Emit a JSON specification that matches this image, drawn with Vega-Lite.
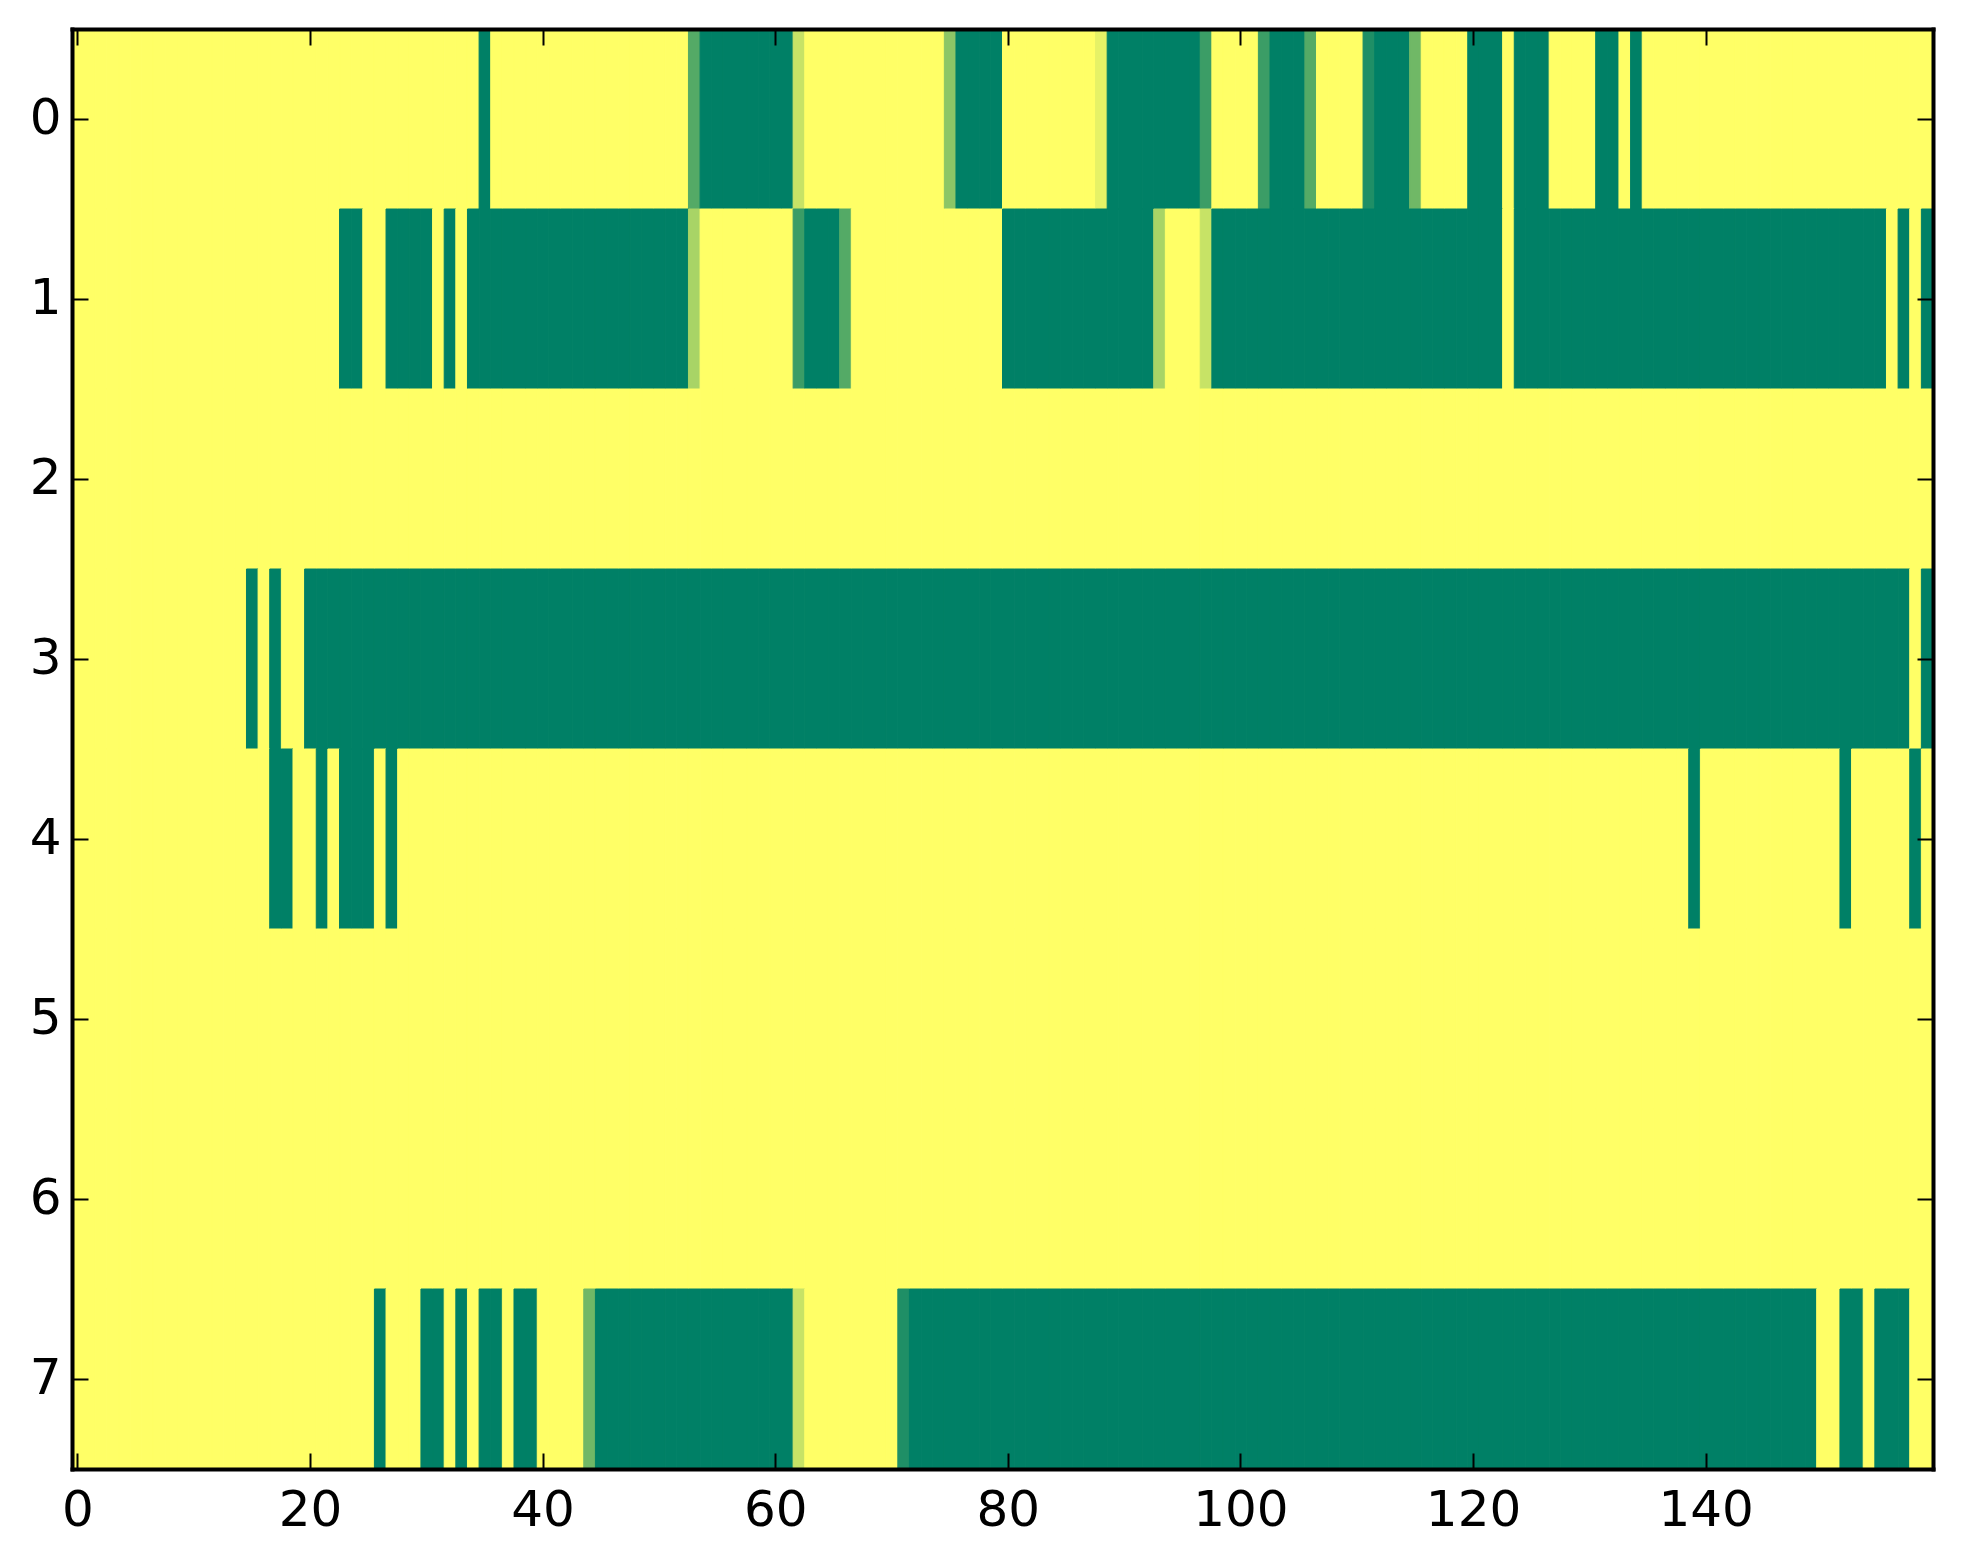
{
  "$schema": "https://vega.github.io/schema/vega-lite/v6.json",
  "width": 1861,
  "height": 1440,
  "autosize": {"type": "none"},
  "padding": {"left": 72, "top": 29, "right": 30, "bottom": 95},
  "background": "white",
  "config": {
    "view": {"stroke": null},
    "axis": {
      "labelFont": "DejaVu Sans",
      "labelFontSize": 50,
      "labelColor": "black",
      "ticks": true,
      "tickColor": "black",
      "tickWidth": 2,
      "tickSize": -16,
      "domain": true,
      "domainColor": "black",
      "domainWidth": 4,
      "domainCap": "square",
      "grid": false,
      "title": null
    }
  },
  "data": {
    "values": [
{"r":0,"c":0,"v":1},{"r":0,"c":1,"v":1},{"r":0,"c":2,"v":1},{"r":0,"c":3,"v":1},{"r":0,"c":4,"v":1},{"r":0,"c":5,"v":1},{"r":0,"c":6,"v":1},{"r":0,"c":7,"v":1},{"r":0,"c":8,"v":1},{"r":0,"c":9,"v":1},
{"r":0,"c":10,"v":1},{"r":0,"c":11,"v":1},{"r":0,"c":12,"v":1},{"r":0,"c":13,"v":1},{"r":0,"c":14,"v":1},{"r":0,"c":15,"v":1},{"r":0,"c":16,"v":1},{"r":0,"c":17,"v":1},{"r":0,"c":18,"v":1},{"r":0,"c":19,"v":1},
{"r":0,"c":20,"v":1},{"r":0,"c":21,"v":1},{"r":0,"c":22,"v":1},{"r":0,"c":23,"v":1},{"r":0,"c":24,"v":1},{"r":0,"c":25,"v":1},{"r":0,"c":26,"v":1},{"r":0,"c":27,"v":1},{"r":0,"c":28,"v":1},{"r":0,"c":29,"v":1},
{"r":0,"c":30,"v":1},{"r":0,"c":31,"v":1},{"r":0,"c":32,"v":1},{"r":0,"c":33,"v":1},{"r":0,"c":34,"v":1},{"r":0,"c":35,"v":0},{"r":0,"c":36,"v":1},{"r":0,"c":37,"v":1},{"r":0,"c":38,"v":1},{"r":0,"c":39,"v":1},
{"r":0,"c":40,"v":1},{"r":0,"c":41,"v":1},{"r":0,"c":42,"v":1},{"r":0,"c":43,"v":1},{"r":0,"c":44,"v":1},{"r":0,"c":45,"v":1},{"r":0,"c":46,"v":1},{"r":0,"c":47,"v":1},{"r":0,"c":48,"v":1},{"r":0,"c":49,"v":1},
{"r":0,"c":50,"v":1},{"r":0,"c":51,"v":1},{"r":0,"c":52,"v":1},{"r":0,"c":53,"v":0.33},{"r":0,"c":54,"v":0},{"r":0,"c":55,"v":0},{"r":0,"c":56,"v":0},{"r":0,"c":57,"v":0},{"r":0,"c":58,"v":0},{"r":0,"c":59,"v":0},
{"r":0,"c":60,"v":0},{"r":0,"c":61,"v":0},{"r":0,"c":62,"v":0.78},{"r":0,"c":63,"v":1},{"r":0,"c":64,"v":1},{"r":0,"c":65,"v":1},{"r":0,"c":66,"v":1},{"r":0,"c":67,"v":1},{"r":0,"c":68,"v":1},{"r":0,"c":69,"v":1},
{"r":0,"c":70,"v":1},{"r":0,"c":71,"v":1},{"r":0,"c":72,"v":1},{"r":0,"c":73,"v":1},{"r":0,"c":74,"v":1},{"r":0,"c":75,"v":0.55},{"r":0,"c":76,"v":0},{"r":0,"c":77,"v":0},{"r":0,"c":78,"v":0},{"r":0,"c":79,"v":0},
{"r":0,"c":80,"v":1},{"r":0,"c":81,"v":1},{"r":0,"c":82,"v":1},{"r":0,"c":83,"v":1},{"r":0,"c":84,"v":1},{"r":0,"c":85,"v":1},{"r":0,"c":86,"v":1},{"r":0,"c":87,"v":1},{"r":0,"c":88,"v":0.9},{"r":0,"c":89,"v":0},
{"r":0,"c":90,"v":0},{"r":0,"c":91,"v":0},{"r":0,"c":92,"v":0},{"r":0,"c":93,"v":0},{"r":0,"c":94,"v":0},{"r":0,"c":95,"v":0},{"r":0,"c":96,"v":0},{"r":0,"c":97,"v":0.23},{"r":0,"c":98,"v":1},{"r":0,"c":99,"v":1},
{"r":0,"c":100,"v":1},{"r":0,"c":101,"v":1},{"r":0,"c":102,"v":0.23},{"r":0,"c":103,"v":0},{"r":0,"c":104,"v":0},{"r":0,"c":105,"v":0},{"r":0,"c":106,"v":0.33},{"r":0,"c":107,"v":1},{"r":0,"c":108,"v":1},{"r":0,"c":109,"v":1},
{"r":0,"c":110,"v":1},{"r":0,"c":111,"v":0.12},{"r":0,"c":112,"v":0},{"r":0,"c":113,"v":0},{"r":0,"c":114,"v":0},{"r":0,"c":115,"v":0.44},{"r":0,"c":116,"v":1},{"r":0,"c":117,"v":1},{"r":0,"c":118,"v":1},{"r":0,"c":119,"v":1},
{"r":0,"c":120,"v":0},{"r":0,"c":121,"v":0},{"r":0,"c":122,"v":0},{"r":0,"c":123,"v":1},{"r":0,"c":124,"v":0},{"r":0,"c":125,"v":0},{"r":0,"c":126,"v":0},{"r":0,"c":127,"v":1},{"r":0,"c":128,"v":1},{"r":0,"c":129,"v":1},
{"r":0,"c":130,"v":1},{"r":0,"c":131,"v":0},{"r":0,"c":132,"v":0},{"r":0,"c":133,"v":1},{"r":0,"c":134,"v":0},{"r":0,"c":135,"v":1},{"r":0,"c":136,"v":1},{"r":0,"c":137,"v":1},{"r":0,"c":138,"v":1},{"r":0,"c":139,"v":1},
{"r":0,"c":140,"v":1},{"r":0,"c":141,"v":1},{"r":0,"c":142,"v":1},{"r":0,"c":143,"v":1},{"r":0,"c":144,"v":1},{"r":0,"c":145,"v":1},{"r":0,"c":146,"v":1},{"r":0,"c":147,"v":1},{"r":0,"c":148,"v":1},{"r":0,"c":149,"v":1},
{"r":0,"c":150,"v":1},{"r":0,"c":151,"v":1},{"r":0,"c":152,"v":1},{"r":0,"c":153,"v":1},{"r":0,"c":154,"v":1},{"r":0,"c":155,"v":1},{"r":0,"c":156,"v":1},{"r":0,"c":157,"v":1},{"r":0,"c":158,"v":1},{"r":0,"c":159,"v":1},
{"r":1,"c":0,"v":1},{"r":1,"c":1,"v":1},{"r":1,"c":2,"v":1},{"r":1,"c":3,"v":1},{"r":1,"c":4,"v":1},{"r":1,"c":5,"v":1},{"r":1,"c":6,"v":1},{"r":1,"c":7,"v":1},{"r":1,"c":8,"v":1},{"r":1,"c":9,"v":1},
{"r":1,"c":10,"v":1},{"r":1,"c":11,"v":1},{"r":1,"c":12,"v":1},{"r":1,"c":13,"v":1},{"r":1,"c":14,"v":1},{"r":1,"c":15,"v":1},{"r":1,"c":16,"v":1},{"r":1,"c":17,"v":1},{"r":1,"c":18,"v":1},{"r":1,"c":19,"v":1},
{"r":1,"c":20,"v":1},{"r":1,"c":21,"v":1},{"r":1,"c":22,"v":1},{"r":1,"c":23,"v":0},{"r":1,"c":24,"v":0},{"r":1,"c":25,"v":1},{"r":1,"c":26,"v":1},{"r":1,"c":27,"v":0},{"r":1,"c":28,"v":0},{"r":1,"c":29,"v":0},
{"r":1,"c":30,"v":0},{"r":1,"c":31,"v":1},{"r":1,"c":32,"v":0},{"r":1,"c":33,"v":1},{"r":1,"c":34,"v":0},{"r":1,"c":35,"v":0},{"r":1,"c":36,"v":0},{"r":1,"c":37,"v":0},{"r":1,"c":38,"v":0},{"r":1,"c":39,"v":0},
{"r":1,"c":40,"v":0},{"r":1,"c":41,"v":0},{"r":1,"c":42,"v":0},{"r":1,"c":43,"v":0},{"r":1,"c":44,"v":0},{"r":1,"c":45,"v":0},{"r":1,"c":46,"v":0},{"r":1,"c":47,"v":0},{"r":1,"c":48,"v":0},{"r":1,"c":49,"v":0},
{"r":1,"c":50,"v":0},{"r":1,"c":51,"v":0},{"r":1,"c":52,"v":0},{"r":1,"c":53,"v":0.66},{"r":1,"c":54,"v":1},{"r":1,"c":55,"v":1},{"r":1,"c":56,"v":1},{"r":1,"c":57,"v":1},{"r":1,"c":58,"v":1},{"r":1,"c":59,"v":1},
{"r":1,"c":60,"v":1},{"r":1,"c":61,"v":1},{"r":1,"c":62,"v":0.23},{"r":1,"c":63,"v":0},{"r":1,"c":64,"v":0},{"r":1,"c":65,"v":0},{"r":1,"c":66,"v":0.33},{"r":1,"c":67,"v":1},{"r":1,"c":68,"v":1},{"r":1,"c":69,"v":1},
{"r":1,"c":70,"v":1},{"r":1,"c":71,"v":1},{"r":1,"c":72,"v":1},{"r":1,"c":73,"v":1},{"r":1,"c":74,"v":1},{"r":1,"c":75,"v":1},{"r":1,"c":76,"v":1},{"r":1,"c":77,"v":1},{"r":1,"c":78,"v":1},{"r":1,"c":79,"v":1},
{"r":1,"c":80,"v":0},{"r":1,"c":81,"v":0},{"r":1,"c":82,"v":0},{"r":1,"c":83,"v":0},{"r":1,"c":84,"v":0},{"r":1,"c":85,"v":0},{"r":1,"c":86,"v":0},{"r":1,"c":87,"v":0},{"r":1,"c":88,"v":0},{"r":1,"c":89,"v":0},
{"r":1,"c":90,"v":0},{"r":1,"c":91,"v":0},{"r":1,"c":92,"v":0},{"r":1,"c":93,"v":0.66},{"r":1,"c":94,"v":1},{"r":1,"c":95,"v":1},{"r":1,"c":96,"v":1},{"r":1,"c":97,"v":0.78},{"r":1,"c":98,"v":0},{"r":1,"c":99,"v":0},
{"r":1,"c":100,"v":0},{"r":1,"c":101,"v":0},{"r":1,"c":102,"v":0},{"r":1,"c":103,"v":0},{"r":1,"c":104,"v":0},{"r":1,"c":105,"v":0},{"r":1,"c":106,"v":0},{"r":1,"c":107,"v":0},{"r":1,"c":108,"v":0},{"r":1,"c":109,"v":0},
{"r":1,"c":110,"v":0},{"r":1,"c":111,"v":0},{"r":1,"c":112,"v":0},{"r":1,"c":113,"v":0},{"r":1,"c":114,"v":0},{"r":1,"c":115,"v":0},{"r":1,"c":116,"v":0},{"r":1,"c":117,"v":0},{"r":1,"c":118,"v":0},{"r":1,"c":119,"v":0},
{"r":1,"c":120,"v":0},{"r":1,"c":121,"v":0},{"r":1,"c":122,"v":0},{"r":1,"c":123,"v":1},{"r":1,"c":124,"v":0},{"r":1,"c":125,"v":0},{"r":1,"c":126,"v":0},{"r":1,"c":127,"v":0},{"r":1,"c":128,"v":0},{"r":1,"c":129,"v":0},
{"r":1,"c":130,"v":0},{"r":1,"c":131,"v":0},{"r":1,"c":132,"v":0},{"r":1,"c":133,"v":0},{"r":1,"c":134,"v":0},{"r":1,"c":135,"v":0},{"r":1,"c":136,"v":0},{"r":1,"c":137,"v":0},{"r":1,"c":138,"v":0},{"r":1,"c":139,"v":0},
{"r":1,"c":140,"v":0},{"r":1,"c":141,"v":0},{"r":1,"c":142,"v":0},{"r":1,"c":143,"v":0},{"r":1,"c":144,"v":0},{"r":1,"c":145,"v":0},{"r":1,"c":146,"v":0},{"r":1,"c":147,"v":0},{"r":1,"c":148,"v":0},{"r":1,"c":149,"v":0},
{"r":1,"c":150,"v":0},{"r":1,"c":151,"v":0},{"r":1,"c":152,"v":0},{"r":1,"c":153,"v":0},{"r":1,"c":154,"v":0},{"r":1,"c":155,"v":0},{"r":1,"c":156,"v":1},{"r":1,"c":157,"v":0},{"r":1,"c":158,"v":1},{"r":1,"c":159,"v":0},
{"r":2,"c":0,"v":1},{"r":2,"c":1,"v":1},{"r":2,"c":2,"v":1},{"r":2,"c":3,"v":1},{"r":2,"c":4,"v":1},{"r":2,"c":5,"v":1},{"r":2,"c":6,"v":1},{"r":2,"c":7,"v":1},{"r":2,"c":8,"v":1},{"r":2,"c":9,"v":1},
{"r":2,"c":10,"v":1},{"r":2,"c":11,"v":1},{"r":2,"c":12,"v":1},{"r":2,"c":13,"v":1},{"r":2,"c":14,"v":1},{"r":2,"c":15,"v":1},{"r":2,"c":16,"v":1},{"r":2,"c":17,"v":1},{"r":2,"c":18,"v":1},{"r":2,"c":19,"v":1},
{"r":2,"c":20,"v":1},{"r":2,"c":21,"v":1},{"r":2,"c":22,"v":1},{"r":2,"c":23,"v":1},{"r":2,"c":24,"v":1},{"r":2,"c":25,"v":1},{"r":2,"c":26,"v":1},{"r":2,"c":27,"v":1},{"r":2,"c":28,"v":1},{"r":2,"c":29,"v":1},
{"r":2,"c":30,"v":1},{"r":2,"c":31,"v":1},{"r":2,"c":32,"v":1},{"r":2,"c":33,"v":1},{"r":2,"c":34,"v":1},{"r":2,"c":35,"v":1},{"r":2,"c":36,"v":1},{"r":2,"c":37,"v":1},{"r":2,"c":38,"v":1},{"r":2,"c":39,"v":1},
{"r":2,"c":40,"v":1},{"r":2,"c":41,"v":1},{"r":2,"c":42,"v":1},{"r":2,"c":43,"v":1},{"r":2,"c":44,"v":1},{"r":2,"c":45,"v":1},{"r":2,"c":46,"v":1},{"r":2,"c":47,"v":1},{"r":2,"c":48,"v":1},{"r":2,"c":49,"v":1},
{"r":2,"c":50,"v":1},{"r":2,"c":51,"v":1},{"r":2,"c":52,"v":1},{"r":2,"c":53,"v":1},{"r":2,"c":54,"v":1},{"r":2,"c":55,"v":1},{"r":2,"c":56,"v":1},{"r":2,"c":57,"v":1},{"r":2,"c":58,"v":1},{"r":2,"c":59,"v":1},
{"r":2,"c":60,"v":1},{"r":2,"c":61,"v":1},{"r":2,"c":62,"v":1},{"r":2,"c":63,"v":1},{"r":2,"c":64,"v":1},{"r":2,"c":65,"v":1},{"r":2,"c":66,"v":1},{"r":2,"c":67,"v":1},{"r":2,"c":68,"v":1},{"r":2,"c":69,"v":1},
{"r":2,"c":70,"v":1},{"r":2,"c":71,"v":1},{"r":2,"c":72,"v":1},{"r":2,"c":73,"v":1},{"r":2,"c":74,"v":1},{"r":2,"c":75,"v":1},{"r":2,"c":76,"v":1},{"r":2,"c":77,"v":1},{"r":2,"c":78,"v":1},{"r":2,"c":79,"v":1},
{"r":2,"c":80,"v":1},{"r":2,"c":81,"v":1},{"r":2,"c":82,"v":1},{"r":2,"c":83,"v":1},{"r":2,"c":84,"v":1},{"r":2,"c":85,"v":1},{"r":2,"c":86,"v":1},{"r":2,"c":87,"v":1},{"r":2,"c":88,"v":1},{"r":2,"c":89,"v":1},
{"r":2,"c":90,"v":1},{"r":2,"c":91,"v":1},{"r":2,"c":92,"v":1},{"r":2,"c":93,"v":1},{"r":2,"c":94,"v":1},{"r":2,"c":95,"v":1},{"r":2,"c":96,"v":1},{"r":2,"c":97,"v":1},{"r":2,"c":98,"v":1},{"r":2,"c":99,"v":1},
{"r":2,"c":100,"v":1},{"r":2,"c":101,"v":1},{"r":2,"c":102,"v":1},{"r":2,"c":103,"v":1},{"r":2,"c":104,"v":1},{"r":2,"c":105,"v":1},{"r":2,"c":106,"v":1},{"r":2,"c":107,"v":1},{"r":2,"c":108,"v":1},{"r":2,"c":109,"v":1},
{"r":2,"c":110,"v":1},{"r":2,"c":111,"v":1},{"r":2,"c":112,"v":1},{"r":2,"c":113,"v":1},{"r":2,"c":114,"v":1},{"r":2,"c":115,"v":1},{"r":2,"c":116,"v":1},{"r":2,"c":117,"v":1},{"r":2,"c":118,"v":1},{"r":2,"c":119,"v":1},
{"r":2,"c":120,"v":1},{"r":2,"c":121,"v":1},{"r":2,"c":122,"v":1},{"r":2,"c":123,"v":1},{"r":2,"c":124,"v":1},{"r":2,"c":125,"v":1},{"r":2,"c":126,"v":1},{"r":2,"c":127,"v":1},{"r":2,"c":128,"v":1},{"r":2,"c":129,"v":1},
{"r":2,"c":130,"v":1},{"r":2,"c":131,"v":1},{"r":2,"c":132,"v":1},{"r":2,"c":133,"v":1},{"r":2,"c":134,"v":1},{"r":2,"c":135,"v":1},{"r":2,"c":136,"v":1},{"r":2,"c":137,"v":1},{"r":2,"c":138,"v":1},{"r":2,"c":139,"v":1},
{"r":2,"c":140,"v":1},{"r":2,"c":141,"v":1},{"r":2,"c":142,"v":1},{"r":2,"c":143,"v":1},{"r":2,"c":144,"v":1},{"r":2,"c":145,"v":1},{"r":2,"c":146,"v":1},{"r":2,"c":147,"v":1},{"r":2,"c":148,"v":1},{"r":2,"c":149,"v":1},
{"r":2,"c":150,"v":1},{"r":2,"c":151,"v":1},{"r":2,"c":152,"v":1},{"r":2,"c":153,"v":1},{"r":2,"c":154,"v":1},{"r":2,"c":155,"v":1},{"r":2,"c":156,"v":1},{"r":2,"c":157,"v":1},{"r":2,"c":158,"v":1},{"r":2,"c":159,"v":1},
{"r":3,"c":0,"v":1},{"r":3,"c":1,"v":1},{"r":3,"c":2,"v":1},{"r":3,"c":3,"v":1},{"r":3,"c":4,"v":1},{"r":3,"c":5,"v":1},{"r":3,"c":6,"v":1},{"r":3,"c":7,"v":1},{"r":3,"c":8,"v":1},{"r":3,"c":9,"v":1},
{"r":3,"c":10,"v":1},{"r":3,"c":11,"v":1},{"r":3,"c":12,"v":1},{"r":3,"c":13,"v":1},{"r":3,"c":14,"v":1},{"r":3,"c":15,"v":0},{"r":3,"c":16,"v":1},{"r":3,"c":17,"v":0},{"r":3,"c":18,"v":1},{"r":3,"c":19,"v":1},
{"r":3,"c":20,"v":0},{"r":3,"c":21,"v":0},{"r":3,"c":22,"v":0},{"r":3,"c":23,"v":0},{"r":3,"c":24,"v":0},{"r":3,"c":25,"v":0},{"r":3,"c":26,"v":0},{"r":3,"c":27,"v":0},{"r":3,"c":28,"v":0},{"r":3,"c":29,"v":0},
{"r":3,"c":30,"v":0},{"r":3,"c":31,"v":0},{"r":3,"c":32,"v":0},{"r":3,"c":33,"v":0},{"r":3,"c":34,"v":0},{"r":3,"c":35,"v":0},{"r":3,"c":36,"v":0},{"r":3,"c":37,"v":0},{"r":3,"c":38,"v":0},{"r":3,"c":39,"v":0},
{"r":3,"c":40,"v":0},{"r":3,"c":41,"v":0},{"r":3,"c":42,"v":0},{"r":3,"c":43,"v":0},{"r":3,"c":44,"v":0},{"r":3,"c":45,"v":0},{"r":3,"c":46,"v":0},{"r":3,"c":47,"v":0},{"r":3,"c":48,"v":0},{"r":3,"c":49,"v":0},
{"r":3,"c":50,"v":0},{"r":3,"c":51,"v":0},{"r":3,"c":52,"v":0},{"r":3,"c":53,"v":0},{"r":3,"c":54,"v":0},{"r":3,"c":55,"v":0},{"r":3,"c":56,"v":0},{"r":3,"c":57,"v":0},{"r":3,"c":58,"v":0},{"r":3,"c":59,"v":0},
{"r":3,"c":60,"v":0},{"r":3,"c":61,"v":0},{"r":3,"c":62,"v":0},{"r":3,"c":63,"v":0},{"r":3,"c":64,"v":0},{"r":3,"c":65,"v":0},{"r":3,"c":66,"v":0},{"r":3,"c":67,"v":0},{"r":3,"c":68,"v":0},{"r":3,"c":69,"v":0},
{"r":3,"c":70,"v":0},{"r":3,"c":71,"v":0},{"r":3,"c":72,"v":0},{"r":3,"c":73,"v":0},{"r":3,"c":74,"v":0},{"r":3,"c":75,"v":0},{"r":3,"c":76,"v":0},{"r":3,"c":77,"v":0},{"r":3,"c":78,"v":0},{"r":3,"c":79,"v":0},
{"r":3,"c":80,"v":0},{"r":3,"c":81,"v":0},{"r":3,"c":82,"v":0},{"r":3,"c":83,"v":0},{"r":3,"c":84,"v":0},{"r":3,"c":85,"v":0},{"r":3,"c":86,"v":0},{"r":3,"c":87,"v":0},{"r":3,"c":88,"v":0},{"r":3,"c":89,"v":0},
{"r":3,"c":90,"v":0},{"r":3,"c":91,"v":0},{"r":3,"c":92,"v":0},{"r":3,"c":93,"v":0},{"r":3,"c":94,"v":0},{"r":3,"c":95,"v":0},{"r":3,"c":96,"v":0},{"r":3,"c":97,"v":0},{"r":3,"c":98,"v":0},{"r":3,"c":99,"v":0},
{"r":3,"c":100,"v":0},{"r":3,"c":101,"v":0},{"r":3,"c":102,"v":0},{"r":3,"c":103,"v":0},{"r":3,"c":104,"v":0},{"r":3,"c":105,"v":0},{"r":3,"c":106,"v":0},{"r":3,"c":107,"v":0},{"r":3,"c":108,"v":0},{"r":3,"c":109,"v":0},
{"r":3,"c":110,"v":0},{"r":3,"c":111,"v":0},{"r":3,"c":112,"v":0},{"r":3,"c":113,"v":0},{"r":3,"c":114,"v":0},{"r":3,"c":115,"v":0},{"r":3,"c":116,"v":0},{"r":3,"c":117,"v":0},{"r":3,"c":118,"v":0},{"r":3,"c":119,"v":0},
{"r":3,"c":120,"v":0},{"r":3,"c":121,"v":0},{"r":3,"c":122,"v":0},{"r":3,"c":123,"v":0},{"r":3,"c":124,"v":0},{"r":3,"c":125,"v":0},{"r":3,"c":126,"v":0},{"r":3,"c":127,"v":0},{"r":3,"c":128,"v":0},{"r":3,"c":129,"v":0},
{"r":3,"c":130,"v":0},{"r":3,"c":131,"v":0},{"r":3,"c":132,"v":0},{"r":3,"c":133,"v":0},{"r":3,"c":134,"v":0},{"r":3,"c":135,"v":0},{"r":3,"c":136,"v":0},{"r":3,"c":137,"v":0},{"r":3,"c":138,"v":0},{"r":3,"c":139,"v":0},
{"r":3,"c":140,"v":0},{"r":3,"c":141,"v":0},{"r":3,"c":142,"v":0},{"r":3,"c":143,"v":0},{"r":3,"c":144,"v":0},{"r":3,"c":145,"v":0},{"r":3,"c":146,"v":0},{"r":3,"c":147,"v":0},{"r":3,"c":148,"v":0},{"r":3,"c":149,"v":0},
{"r":3,"c":150,"v":0},{"r":3,"c":151,"v":0},{"r":3,"c":152,"v":0},{"r":3,"c":153,"v":0},{"r":3,"c":154,"v":0},{"r":3,"c":155,"v":0},{"r":3,"c":156,"v":0},{"r":3,"c":157,"v":0},{"r":3,"c":158,"v":1},{"r":3,"c":159,"v":0},
{"r":4,"c":0,"v":1},{"r":4,"c":1,"v":1},{"r":4,"c":2,"v":1},{"r":4,"c":3,"v":1},{"r":4,"c":4,"v":1},{"r":4,"c":5,"v":1},{"r":4,"c":6,"v":1},{"r":4,"c":7,"v":1},{"r":4,"c":8,"v":1},{"r":4,"c":9,"v":1},
{"r":4,"c":10,"v":1},{"r":4,"c":11,"v":1},{"r":4,"c":12,"v":1},{"r":4,"c":13,"v":1},{"r":4,"c":14,"v":1},{"r":4,"c":15,"v":1},{"r":4,"c":16,"v":1},{"r":4,"c":17,"v":0},{"r":4,"c":18,"v":0},{"r":4,"c":19,"v":1},
{"r":4,"c":20,"v":1},{"r":4,"c":21,"v":0},{"r":4,"c":22,"v":1},{"r":4,"c":23,"v":0},{"r":4,"c":24,"v":0},{"r":4,"c":25,"v":0},{"r":4,"c":26,"v":1},{"r":4,"c":27,"v":0},{"r":4,"c":28,"v":1},{"r":4,"c":29,"v":1},
{"r":4,"c":30,"v":1},{"r":4,"c":31,"v":1},{"r":4,"c":32,"v":1},{"r":4,"c":33,"v":1},{"r":4,"c":34,"v":1},{"r":4,"c":35,"v":1},{"r":4,"c":36,"v":1},{"r":4,"c":37,"v":1},{"r":4,"c":38,"v":1},{"r":4,"c":39,"v":1},
{"r":4,"c":40,"v":1},{"r":4,"c":41,"v":1},{"r":4,"c":42,"v":1},{"r":4,"c":43,"v":1},{"r":4,"c":44,"v":1},{"r":4,"c":45,"v":1},{"r":4,"c":46,"v":1},{"r":4,"c":47,"v":1},{"r":4,"c":48,"v":1},{"r":4,"c":49,"v":1},
{"r":4,"c":50,"v":1},{"r":4,"c":51,"v":1},{"r":4,"c":52,"v":1},{"r":4,"c":53,"v":1},{"r":4,"c":54,"v":1},{"r":4,"c":55,"v":1},{"r":4,"c":56,"v":1},{"r":4,"c":57,"v":1},{"r":4,"c":58,"v":1},{"r":4,"c":59,"v":1},
{"r":4,"c":60,"v":1},{"r":4,"c":61,"v":1},{"r":4,"c":62,"v":1},{"r":4,"c":63,"v":1},{"r":4,"c":64,"v":1},{"r":4,"c":65,"v":1},{"r":4,"c":66,"v":1},{"r":4,"c":67,"v":1},{"r":4,"c":68,"v":1},{"r":4,"c":69,"v":1},
{"r":4,"c":70,"v":1},{"r":4,"c":71,"v":1},{"r":4,"c":72,"v":1},{"r":4,"c":73,"v":1},{"r":4,"c":74,"v":1},{"r":4,"c":75,"v":1},{"r":4,"c":76,"v":1},{"r":4,"c":77,"v":1},{"r":4,"c":78,"v":1},{"r":4,"c":79,"v":1},
{"r":4,"c":80,"v":1},{"r":4,"c":81,"v":1},{"r":4,"c":82,"v":1},{"r":4,"c":83,"v":1},{"r":4,"c":84,"v":1},{"r":4,"c":85,"v":1},{"r":4,"c":86,"v":1},{"r":4,"c":87,"v":1},{"r":4,"c":88,"v":1},{"r":4,"c":89,"v":1},
{"r":4,"c":90,"v":1},{"r":4,"c":91,"v":1},{"r":4,"c":92,"v":1},{"r":4,"c":93,"v":1},{"r":4,"c":94,"v":1},{"r":4,"c":95,"v":1},{"r":4,"c":96,"v":1},{"r":4,"c":97,"v":1},{"r":4,"c":98,"v":1},{"r":4,"c":99,"v":1},
{"r":4,"c":100,"v":1},{"r":4,"c":101,"v":1},{"r":4,"c":102,"v":1},{"r":4,"c":103,"v":1},{"r":4,"c":104,"v":1},{"r":4,"c":105,"v":1},{"r":4,"c":106,"v":1},{"r":4,"c":107,"v":1},{"r":4,"c":108,"v":1},{"r":4,"c":109,"v":1},
{"r":4,"c":110,"v":1},{"r":4,"c":111,"v":1},{"r":4,"c":112,"v":1},{"r":4,"c":113,"v":1},{"r":4,"c":114,"v":1},{"r":4,"c":115,"v":1},{"r":4,"c":116,"v":1},{"r":4,"c":117,"v":1},{"r":4,"c":118,"v":1},{"r":4,"c":119,"v":1},
{"r":4,"c":120,"v":1},{"r":4,"c":121,"v":1},{"r":4,"c":122,"v":1},{"r":4,"c":123,"v":1},{"r":4,"c":124,"v":1},{"r":4,"c":125,"v":1},{"r":4,"c":126,"v":1},{"r":4,"c":127,"v":1},{"r":4,"c":128,"v":1},{"r":4,"c":129,"v":1},
{"r":4,"c":130,"v":1},{"r":4,"c":131,"v":1},{"r":4,"c":132,"v":1},{"r":4,"c":133,"v":1},{"r":4,"c":134,"v":1},{"r":4,"c":135,"v":1},{"r":4,"c":136,"v":1},{"r":4,"c":137,"v":1},{"r":4,"c":138,"v":1},{"r":4,"c":139,"v":0},
{"r":4,"c":140,"v":1},{"r":4,"c":141,"v":1},{"r":4,"c":142,"v":1},{"r":4,"c":143,"v":1},{"r":4,"c":144,"v":1},{"r":4,"c":145,"v":1},{"r":4,"c":146,"v":1},{"r":4,"c":147,"v":1},{"r":4,"c":148,"v":1},{"r":4,"c":149,"v":1},
{"r":4,"c":150,"v":1},{"r":4,"c":151,"v":1},{"r":4,"c":152,"v":0},{"r":4,"c":153,"v":1},{"r":4,"c":154,"v":1},{"r":4,"c":155,"v":1},{"r":4,"c":156,"v":1},{"r":4,"c":157,"v":1},{"r":4,"c":158,"v":0},{"r":4,"c":159,"v":1},
{"r":5,"c":0,"v":1},{"r":5,"c":1,"v":1},{"r":5,"c":2,"v":1},{"r":5,"c":3,"v":1},{"r":5,"c":4,"v":1},{"r":5,"c":5,"v":1},{"r":5,"c":6,"v":1},{"r":5,"c":7,"v":1},{"r":5,"c":8,"v":1},{"r":5,"c":9,"v":1},
{"r":5,"c":10,"v":1},{"r":5,"c":11,"v":1},{"r":5,"c":12,"v":1},{"r":5,"c":13,"v":1},{"r":5,"c":14,"v":1},{"r":5,"c":15,"v":1},{"r":5,"c":16,"v":1},{"r":5,"c":17,"v":1},{"r":5,"c":18,"v":1},{"r":5,"c":19,"v":1},
{"r":5,"c":20,"v":1},{"r":5,"c":21,"v":1},{"r":5,"c":22,"v":1},{"r":5,"c":23,"v":1},{"r":5,"c":24,"v":1},{"r":5,"c":25,"v":1},{"r":5,"c":26,"v":1},{"r":5,"c":27,"v":1},{"r":5,"c":28,"v":1},{"r":5,"c":29,"v":1},
{"r":5,"c":30,"v":1},{"r":5,"c":31,"v":1},{"r":5,"c":32,"v":1},{"r":5,"c":33,"v":1},{"r":5,"c":34,"v":1},{"r":5,"c":35,"v":1},{"r":5,"c":36,"v":1},{"r":5,"c":37,"v":1},{"r":5,"c":38,"v":1},{"r":5,"c":39,"v":1},
{"r":5,"c":40,"v":1},{"r":5,"c":41,"v":1},{"r":5,"c":42,"v":1},{"r":5,"c":43,"v":1},{"r":5,"c":44,"v":1},{"r":5,"c":45,"v":1},{"r":5,"c":46,"v":1},{"r":5,"c":47,"v":1},{"r":5,"c":48,"v":1},{"r":5,"c":49,"v":1},
{"r":5,"c":50,"v":1},{"r":5,"c":51,"v":1},{"r":5,"c":52,"v":1},{"r":5,"c":53,"v":1},{"r":5,"c":54,"v":1},{"r":5,"c":55,"v":1},{"r":5,"c":56,"v":1},{"r":5,"c":57,"v":1},{"r":5,"c":58,"v":1},{"r":5,"c":59,"v":1},
{"r":5,"c":60,"v":1},{"r":5,"c":61,"v":1},{"r":5,"c":62,"v":1},{"r":5,"c":63,"v":1},{"r":5,"c":64,"v":1},{"r":5,"c":65,"v":1},{"r":5,"c":66,"v":1},{"r":5,"c":67,"v":1},{"r":5,"c":68,"v":1},{"r":5,"c":69,"v":1},
{"r":5,"c":70,"v":1},{"r":5,"c":71,"v":1},{"r":5,"c":72,"v":1},{"r":5,"c":73,"v":1},{"r":5,"c":74,"v":1},{"r":5,"c":75,"v":1},{"r":5,"c":76,"v":1},{"r":5,"c":77,"v":1},{"r":5,"c":78,"v":1},{"r":5,"c":79,"v":1},
{"r":5,"c":80,"v":1},{"r":5,"c":81,"v":1},{"r":5,"c":82,"v":1},{"r":5,"c":83,"v":1},{"r":5,"c":84,"v":1},{"r":5,"c":85,"v":1},{"r":5,"c":86,"v":1},{"r":5,"c":87,"v":1},{"r":5,"c":88,"v":1},{"r":5,"c":89,"v":1},
{"r":5,"c":90,"v":1},{"r":5,"c":91,"v":1},{"r":5,"c":92,"v":1},{"r":5,"c":93,"v":1},{"r":5,"c":94,"v":1},{"r":5,"c":95,"v":1},{"r":5,"c":96,"v":1},{"r":5,"c":97,"v":1},{"r":5,"c":98,"v":1},{"r":5,"c":99,"v":1},
{"r":5,"c":100,"v":1},{"r":5,"c":101,"v":1},{"r":5,"c":102,"v":1},{"r":5,"c":103,"v":1},{"r":5,"c":104,"v":1},{"r":5,"c":105,"v":1},{"r":5,"c":106,"v":1},{"r":5,"c":107,"v":1},{"r":5,"c":108,"v":1},{"r":5,"c":109,"v":1},
{"r":5,"c":110,"v":1},{"r":5,"c":111,"v":1},{"r":5,"c":112,"v":1},{"r":5,"c":113,"v":1},{"r":5,"c":114,"v":1},{"r":5,"c":115,"v":1},{"r":5,"c":116,"v":1},{"r":5,"c":117,"v":1},{"r":5,"c":118,"v":1},{"r":5,"c":119,"v":1},
{"r":5,"c":120,"v":1},{"r":5,"c":121,"v":1},{"r":5,"c":122,"v":1},{"r":5,"c":123,"v":1},{"r":5,"c":124,"v":1},{"r":5,"c":125,"v":1},{"r":5,"c":126,"v":1},{"r":5,"c":127,"v":1},{"r":5,"c":128,"v":1},{"r":5,"c":129,"v":1},
{"r":5,"c":130,"v":1},{"r":5,"c":131,"v":1},{"r":5,"c":132,"v":1},{"r":5,"c":133,"v":1},{"r":5,"c":134,"v":1},{"r":5,"c":135,"v":1},{"r":5,"c":136,"v":1},{"r":5,"c":137,"v":1},{"r":5,"c":138,"v":1},{"r":5,"c":139,"v":1},
{"r":5,"c":140,"v":1},{"r":5,"c":141,"v":1},{"r":5,"c":142,"v":1},{"r":5,"c":143,"v":1},{"r":5,"c":144,"v":1},{"r":5,"c":145,"v":1},{"r":5,"c":146,"v":1},{"r":5,"c":147,"v":1},{"r":5,"c":148,"v":1},{"r":5,"c":149,"v":1},
{"r":5,"c":150,"v":1},{"r":5,"c":151,"v":1},{"r":5,"c":152,"v":1},{"r":5,"c":153,"v":1},{"r":5,"c":154,"v":1},{"r":5,"c":155,"v":1},{"r":5,"c":156,"v":1},{"r":5,"c":157,"v":1},{"r":5,"c":158,"v":1},{"r":5,"c":159,"v":1},
{"r":6,"c":0,"v":1},{"r":6,"c":1,"v":1},{"r":6,"c":2,"v":1},{"r":6,"c":3,"v":1},{"r":6,"c":4,"v":1},{"r":6,"c":5,"v":1},{"r":6,"c":6,"v":1},{"r":6,"c":7,"v":1},{"r":6,"c":8,"v":1},{"r":6,"c":9,"v":1},
{"r":6,"c":10,"v":1},{"r":6,"c":11,"v":1},{"r":6,"c":12,"v":1},{"r":6,"c":13,"v":1},{"r":6,"c":14,"v":1},{"r":6,"c":15,"v":1},{"r":6,"c":16,"v":1},{"r":6,"c":17,"v":1},{"r":6,"c":18,"v":1},{"r":6,"c":19,"v":1},
{"r":6,"c":20,"v":1},{"r":6,"c":21,"v":1},{"r":6,"c":22,"v":1},{"r":6,"c":23,"v":1},{"r":6,"c":24,"v":1},{"r":6,"c":25,"v":1},{"r":6,"c":26,"v":1},{"r":6,"c":27,"v":1},{"r":6,"c":28,"v":1},{"r":6,"c":29,"v":1},
{"r":6,"c":30,"v":1},{"r":6,"c":31,"v":1},{"r":6,"c":32,"v":1},{"r":6,"c":33,"v":1},{"r":6,"c":34,"v":1},{"r":6,"c":35,"v":1},{"r":6,"c":36,"v":1},{"r":6,"c":37,"v":1},{"r":6,"c":38,"v":1},{"r":6,"c":39,"v":1},
{"r":6,"c":40,"v":1},{"r":6,"c":41,"v":1},{"r":6,"c":42,"v":1},{"r":6,"c":43,"v":1},{"r":6,"c":44,"v":1},{"r":6,"c":45,"v":1},{"r":6,"c":46,"v":1},{"r":6,"c":47,"v":1},{"r":6,"c":48,"v":1},{"r":6,"c":49,"v":1},
{"r":6,"c":50,"v":1},{"r":6,"c":51,"v":1},{"r":6,"c":52,"v":1},{"r":6,"c":53,"v":1},{"r":6,"c":54,"v":1},{"r":6,"c":55,"v":1},{"r":6,"c":56,"v":1},{"r":6,"c":57,"v":1},{"r":6,"c":58,"v":1},{"r":6,"c":59,"v":1},
{"r":6,"c":60,"v":1},{"r":6,"c":61,"v":1},{"r":6,"c":62,"v":1},{"r":6,"c":63,"v":1},{"r":6,"c":64,"v":1},{"r":6,"c":65,"v":1},{"r":6,"c":66,"v":1},{"r":6,"c":67,"v":1},{"r":6,"c":68,"v":1},{"r":6,"c":69,"v":1},
{"r":6,"c":70,"v":1},{"r":6,"c":71,"v":1},{"r":6,"c":72,"v":1},{"r":6,"c":73,"v":1},{"r":6,"c":74,"v":1},{"r":6,"c":75,"v":1},{"r":6,"c":76,"v":1},{"r":6,"c":77,"v":1},{"r":6,"c":78,"v":1},{"r":6,"c":79,"v":1},
{"r":6,"c":80,"v":1},{"r":6,"c":81,"v":1},{"r":6,"c":82,"v":1},{"r":6,"c":83,"v":1},{"r":6,"c":84,"v":1},{"r":6,"c":85,"v":1},{"r":6,"c":86,"v":1},{"r":6,"c":87,"v":1},{"r":6,"c":88,"v":1},{"r":6,"c":89,"v":1},
{"r":6,"c":90,"v":1},{"r":6,"c":91,"v":1},{"r":6,"c":92,"v":1},{"r":6,"c":93,"v":1},{"r":6,"c":94,"v":1},{"r":6,"c":95,"v":1},{"r":6,"c":96,"v":1},{"r":6,"c":97,"v":1},{"r":6,"c":98,"v":1},{"r":6,"c":99,"v":1},
{"r":6,"c":100,"v":1},{"r":6,"c":101,"v":1},{"r":6,"c":102,"v":1},{"r":6,"c":103,"v":1},{"r":6,"c":104,"v":1},{"r":6,"c":105,"v":1},{"r":6,"c":106,"v":1},{"r":6,"c":107,"v":1},{"r":6,"c":108,"v":1},{"r":6,"c":109,"v":1},
{"r":6,"c":110,"v":1},{"r":6,"c":111,"v":1},{"r":6,"c":112,"v":1},{"r":6,"c":113,"v":1},{"r":6,"c":114,"v":1},{"r":6,"c":115,"v":1},{"r":6,"c":116,"v":1},{"r":6,"c":117,"v":1},{"r":6,"c":118,"v":1},{"r":6,"c":119,"v":1},
{"r":6,"c":120,"v":1},{"r":6,"c":121,"v":1},{"r":6,"c":122,"v":1},{"r":6,"c":123,"v":1},{"r":6,"c":124,"v":1},{"r":6,"c":125,"v":1},{"r":6,"c":126,"v":1},{"r":6,"c":127,"v":1},{"r":6,"c":128,"v":1},{"r":6,"c":129,"v":1},
{"r":6,"c":130,"v":1},{"r":6,"c":131,"v":1},{"r":6,"c":132,"v":1},{"r":6,"c":133,"v":1},{"r":6,"c":134,"v":1},{"r":6,"c":135,"v":1},{"r":6,"c":136,"v":1},{"r":6,"c":137,"v":1},{"r":6,"c":138,"v":1},{"r":6,"c":139,"v":1},
{"r":6,"c":140,"v":1},{"r":6,"c":141,"v":1},{"r":6,"c":142,"v":1},{"r":6,"c":143,"v":1},{"r":6,"c":144,"v":1},{"r":6,"c":145,"v":1},{"r":6,"c":146,"v":1},{"r":6,"c":147,"v":1},{"r":6,"c":148,"v":1},{"r":6,"c":149,"v":1},
{"r":6,"c":150,"v":1},{"r":6,"c":151,"v":1},{"r":6,"c":152,"v":1},{"r":6,"c":153,"v":1},{"r":6,"c":154,"v":1},{"r":6,"c":155,"v":1},{"r":6,"c":156,"v":1},{"r":6,"c":157,"v":1},{"r":6,"c":158,"v":1},{"r":6,"c":159,"v":1},
{"r":7,"c":0,"v":1},{"r":7,"c":1,"v":1},{"r":7,"c":2,"v":1},{"r":7,"c":3,"v":1},{"r":7,"c":4,"v":1},{"r":7,"c":5,"v":1},{"r":7,"c":6,"v":1},{"r":7,"c":7,"v":1},{"r":7,"c":8,"v":1},{"r":7,"c":9,"v":1},
{"r":7,"c":10,"v":1},{"r":7,"c":11,"v":1},{"r":7,"c":12,"v":1},{"r":7,"c":13,"v":1},{"r":7,"c":14,"v":1},{"r":7,"c":15,"v":1},{"r":7,"c":16,"v":1},{"r":7,"c":17,"v":1},{"r":7,"c":18,"v":1},{"r":7,"c":19,"v":1},
{"r":7,"c":20,"v":1},{"r":7,"c":21,"v":1},{"r":7,"c":22,"v":1},{"r":7,"c":23,"v":1},{"r":7,"c":24,"v":1},{"r":7,"c":25,"v":1},{"r":7,"c":26,"v":0},{"r":7,"c":27,"v":1},{"r":7,"c":28,"v":1},{"r":7,"c":29,"v":1},
{"r":7,"c":30,"v":0},{"r":7,"c":31,"v":0},{"r":7,"c":32,"v":1},{"r":7,"c":33,"v":0},{"r":7,"c":34,"v":1},{"r":7,"c":35,"v":0},{"r":7,"c":36,"v":0},{"r":7,"c":37,"v":1},{"r":7,"c":38,"v":0},{"r":7,"c":39,"v":0},
{"r":7,"c":40,"v":1},{"r":7,"c":41,"v":1},{"r":7,"c":42,"v":1},{"r":7,"c":43,"v":1},{"r":7,"c":44,"v":0.44},{"r":7,"c":45,"v":0},{"r":7,"c":46,"v":0},{"r":7,"c":47,"v":0},{"r":7,"c":48,"v":0},{"r":7,"c":49,"v":0},
{"r":7,"c":50,"v":0},{"r":7,"c":51,"v":0},{"r":7,"c":52,"v":0},{"r":7,"c":53,"v":0},{"r":7,"c":54,"v":0},{"r":7,"c":55,"v":0},{"r":7,"c":56,"v":0},{"r":7,"c":57,"v":0},{"r":7,"c":58,"v":0},{"r":7,"c":59,"v":0},
{"r":7,"c":60,"v":0},{"r":7,"c":61,"v":0},{"r":7,"c":62,"v":0.78},{"r":7,"c":63,"v":1},{"r":7,"c":64,"v":1},{"r":7,"c":65,"v":1},{"r":7,"c":66,"v":1},{"r":7,"c":67,"v":1},{"r":7,"c":68,"v":1},{"r":7,"c":69,"v":1},
{"r":7,"c":70,"v":1},{"r":7,"c":71,"v":0.12},{"r":7,"c":72,"v":0},{"r":7,"c":73,"v":0},{"r":7,"c":74,"v":0},{"r":7,"c":75,"v":0},{"r":7,"c":76,"v":0},{"r":7,"c":77,"v":0},{"r":7,"c":78,"v":0},{"r":7,"c":79,"v":0},
{"r":7,"c":80,"v":0},{"r":7,"c":81,"v":0},{"r":7,"c":82,"v":0},{"r":7,"c":83,"v":0},{"r":7,"c":84,"v":0},{"r":7,"c":85,"v":0},{"r":7,"c":86,"v":0},{"r":7,"c":87,"v":0},{"r":7,"c":88,"v":0},{"r":7,"c":89,"v":0},
{"r":7,"c":90,"v":0},{"r":7,"c":91,"v":0},{"r":7,"c":92,"v":0},{"r":7,"c":93,"v":0},{"r":7,"c":94,"v":0},{"r":7,"c":95,"v":0},{"r":7,"c":96,"v":0},{"r":7,"c":97,"v":0},{"r":7,"c":98,"v":0},{"r":7,"c":99,"v":0},
{"r":7,"c":100,"v":0},{"r":7,"c":101,"v":0},{"r":7,"c":102,"v":0},{"r":7,"c":103,"v":0},{"r":7,"c":104,"v":0},{"r":7,"c":105,"v":0},{"r":7,"c":106,"v":0},{"r":7,"c":107,"v":0},{"r":7,"c":108,"v":0},{"r":7,"c":109,"v":0},
{"r":7,"c":110,"v":0},{"r":7,"c":111,"v":0},{"r":7,"c":112,"v":0},{"r":7,"c":113,"v":0},{"r":7,"c":114,"v":0},{"r":7,"c":115,"v":0},{"r":7,"c":116,"v":0},{"r":7,"c":117,"v":0},{"r":7,"c":118,"v":0},{"r":7,"c":119,"v":0},
{"r":7,"c":120,"v":0},{"r":7,"c":121,"v":0},{"r":7,"c":122,"v":0},{"r":7,"c":123,"v":0},{"r":7,"c":124,"v":0},{"r":7,"c":125,"v":0},{"r":7,"c":126,"v":0},{"r":7,"c":127,"v":0},{"r":7,"c":128,"v":0},{"r":7,"c":129,"v":0},
{"r":7,"c":130,"v":0},{"r":7,"c":131,"v":0},{"r":7,"c":132,"v":0},{"r":7,"c":133,"v":0},{"r":7,"c":134,"v":0},{"r":7,"c":135,"v":0},{"r":7,"c":136,"v":0},{"r":7,"c":137,"v":0},{"r":7,"c":138,"v":0},{"r":7,"c":139,"v":0},
{"r":7,"c":140,"v":0},{"r":7,"c":141,"v":0},{"r":7,"c":142,"v":0},{"r":7,"c":143,"v":0},{"r":7,"c":144,"v":0},{"r":7,"c":145,"v":0},{"r":7,"c":146,"v":0},{"r":7,"c":147,"v":0},{"r":7,"c":148,"v":0},{"r":7,"c":149,"v":0},
{"r":7,"c":150,"v":1},{"r":7,"c":151,"v":1},{"r":7,"c":152,"v":0},{"r":7,"c":153,"v":0},{"r":7,"c":154,"v":1},{"r":7,"c":155,"v":0},{"r":7,"c":156,"v":0},{"r":7,"c":157,"v":0},{"r":7,"c":158,"v":1},{"r":7,"c":159,"v":1}
    ]
  },
  "layer": [
    {
      "mark": {"type": "rect", "strokeWidth": 1},
      "encoding": {
        "x": {
          "field": "c",
          "type": "ordinal",
          "scale": {"paddingInner": 0, "paddingOuter": 0},
          "axis": {"orient": "bottom", "values": [0, 20, 40, 60, 80, 100, 120, 140], "labelAngle": 0, "labelPadding": 32}
        },
        "y": {
          "field": "r",
          "type": "ordinal",
          "scale": {"paddingInner": 0, "paddingOuter": 0},
          "axis": {"orient": "left", "labelPadding": 27}
        },
        "color": {
          "field": "v",
          "type": "quantitative",
          "scale": {"domain": [0, 1], "range": ["#008066", "#ffff66"], "interpolate": "rgb"},
          "legend": null
        },
        "stroke": {
          "field": "v",
          "type": "quantitative",
          "scale": {"domain": [0, 1], "range": ["#008066", "#ffff66"], "interpolate": "rgb"},
          "legend": null
        }
      }
    },
    {
      "mark": {"type": "rect", "opacity": 0},
      "encoding": {
        "x": {
          "field": "c",
          "type": "ordinal",
          "axis": {"orient": "top", "values": [0, 20, 40, 60, 80, 100, 120, 140], "labels": false}
        },
        "y": {
          "field": "r",
          "type": "ordinal",
          "axis": {"orient": "right", "labels": false}
        }
      }
    }
  ],
  "resolve": {"axis": {"x": "independent", "y": "independent"}}
}
